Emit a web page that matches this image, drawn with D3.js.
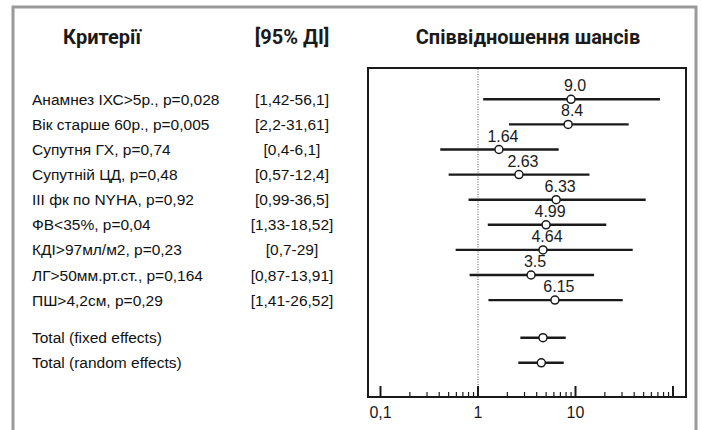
<!DOCTYPE html>
<html>
<head>
<meta charset="utf-8">
<script src="https://cdn.jsdelivr.net/npm/d3@7"></script>
<style>
  body { margin: 0; background: #fff; }
  svg { display: block; }
</style>
</head>
<body>
<svg width="702" height="430"></svg>
<script>
// Criteria labels and CI text as printed
const criteria = [
    "Анамнез ІХС>5р., p=0,028",
    "Вік старше 60р., p=0,005",
    "Супутня ГХ, p=0,74",
    "Супутній ЦД, p=0,48",
    "ІІІ фк по NYHA, p=0,92",
    "ФВ<35%, p=0,04",
    "КДІ>97мл/м2, p=0,23",
    "ЛГ>50мм.рт.ст., p=0,164",
    "ПШ>4,2см, p=0,29"
];
const ciText = ["[1,42-56,1]", "[2,2-31,61]", "[0,4-6,1]", "[0,57-12,4]", "[0,99-36,5]",
    "[1,33-18,52]", "[0,7-29]", "[0,87-13,91]", "[1,41-26,52]"];

// Odds ratios and the interval ends as drawn
const orValues = [9.0, 8.4, 1.64, 2.63, 6.33, 4.99, 4.64, 3.5, 6.15];
const orLabels = ["9.0", "8.4", "1.64", "2.63", "6.33", "4.99", "4.64", "3.5", "6.15"];
const ciLow = [1.13, 2.08, 0.41, 0.50, 0.80, 1.26, 0.59, 0.82, 1.28];
const ciHigh = [73.6, 35.1, 6.72, 13.9, 52.5, 20.7, 38.6, 15.5, 30.5];

// Pooled estimates
const totals = ["Total (fixed effects)", "Total (random effects)"];
const totalOR = [4.64, 4.46];
const totalLow = [2.72, 2.59];
const totalHigh = [7.94, 7.57];

const tickValues = [0.1, 1, 10, 100];
const tickLabels = ["0,1", "1", "10", ""];

const svg = d3.select("svg");
const font = "'Liberation Sans', Arial, sans-serif";

// outer gray frame
svg.append("rect")
    .attr("x", 13).attr("y", 7).attr("width", 683).attr("height", 440)
    .attr("fill", "none").attr("stroke", "#9a9a9a").attr("stroke-width", 3);

// headers
const header = svg.append("g")
    .attr("font-family", "Roboto, 'Liberation Sans', sans-serif")
    .attr("font-weight", 700).attr("font-size", 20).attr("fill", "#1a1a1a");
header.append("text").attr("x", 102).attr("y", 44).attr("text-anchor", "middle").text("Критерії");
header.append("text").attr("x", 292).attr("y", 44).attr("text-anchor", "middle").text("[95% ДІ]");
header.append("text").attr("x", 528).attr("y", 44).attr("text-anchor", "middle").text("Співвідношення шансів");

// plot box
const box = { left: 368, right: 686, top: 68, bottom: 397 };
svg.append("rect")
    .attr("x", box.left).attr("y", box.top)
    .attr("width", box.right - box.left).attr("height", box.bottom - box.top)
    .attr("fill", "none").attr("stroke", "#1a1a1a").attr("stroke-width", 2);

const x = d3.scaleLog().domain([0.1, 100]).range([380.5, 673]);

// row positions
const rowIdx = d3.range(criteria.length);
const y = d3.scaleLinear().domain([0, 1]).range([99.3, 124.4]);
const yTotal = i => y(criteria.length - 1) + 37.6 + i * 25.1;

// reference line at OR = 1
svg.append("line")
    .attr("x1", x(1)).attr("x2", x(1))
    .attr("y1", box.top + 1).attr("y2", box.bottom)
    .attr("stroke", "#555").attr("stroke-width", 1).attr("stroke-dasharray", "1,1.5");

// ticks: major and minor along the bottom
const minor = [];
[0.1, 1, 10].forEach(d => { for (let k = 2; k <= 9; k++) minor.push(d * k); });
svg.append("g").selectAll("line").data(minor).join("line")
    .attr("x1", d => x(d)).attr("x2", d => x(d))
    .attr("y1", box.bottom).attr("y2", box.bottom - 5)
    .attr("stroke", "#1a1a1a").attr("stroke-width", 1.2);
svg.append("g").selectAll("line").data(tickValues).join("line")
    .attr("x1", d => x(d)).attr("x2", d => x(d))
    .attr("y1", box.bottom).attr("y2", box.bottom - 11)
    .attr("stroke", "#1a1a1a").attr("stroke-width", 2);
svg.append("g").selectAll("text").data(tickValues).join("text")
    .attr("x", d => x(d)).attr("y", 418)
    .attr("text-anchor", "middle")
    .attr("font-family", font).attr("font-size", 16).attr("fill", "#1a1a1a")
    .text((d, i) => tickLabels[i]);

// left text columns
const textG = svg.append("g").attr("font-family", font).attr("font-size", 15.5).attr("fill", "#111");
textG.selectAll(".crit").data(criteria).join("text")
    .attr("x", 32).attr("y", (d, i) => y(i) + 5.5).text(d => d);
textG.selectAll(".ci").data(ciText).join("text")
    .attr("x", 292).attr("y", (d, i) => y(i) + 5.5)
    .attr("text-anchor", "middle").text(d => d);
textG.selectAll(".tot").data(totals).join("text")
    .attr("x", 32).attr("y", (d, i) => yTotal(i) + 5.5).text(d => d);

// CI lines, points and labels
const marks = svg.append("g");
marks.selectAll(".ci-line").data(rowIdx).join("line")
    .attr("x1", i => x(ciLow[i])).attr("x2", i => x(ciHigh[i]))
    .attr("y1", i => y(i)).attr("y2", i => y(i))
    .attr("stroke", "#1a1a1a").attr("stroke-width", 2.4);
marks.selectAll(".tot-line").data([0, 1]).join("line")
    .attr("x1", i => x(totalLow[i])).attr("x2", i => x(totalHigh[i]))
    .attr("y1", i => yTotal(i)).attr("y2", i => yTotal(i))
    .attr("stroke", "#1a1a1a").attr("stroke-width", 2.4);
marks.selectAll(".pt").data(rowIdx).join("circle")
    .attr("cx", i => x(orValues[i])).attr("cy", i => y(i)).attr("r", 4)
    .attr("fill", "#fff").attr("stroke", "#1a1a1a").attr("stroke-width", 1.5);
marks.selectAll(".tot-pt").data([0, 1]).join("circle")
    .attr("cx", i => x(totalOR[i])).attr("cy", i => yTotal(i)).attr("r", 4)
    .attr("fill", "#fff").attr("stroke", "#1a1a1a").attr("stroke-width", 1.5);
marks.selectAll(".lbl").data(rowIdx).join("text")
    .attr("x", i => x(orValues[i]) + 4).attr("y", i => y(i) - 8)
    .attr("text-anchor", "middle")
    .attr("font-family", font).attr("font-size", 16).attr("fill", "#1a1a1a")
    .text(i => orLabels[i]);
</script>
</body>
</html>
